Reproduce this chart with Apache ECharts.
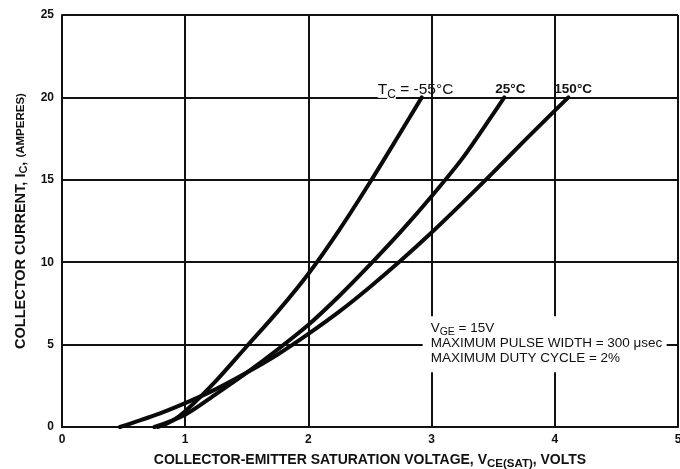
<!DOCTYPE html>
<html><head><meta charset="utf-8">
<script src="https://cdn.jsdelivr.net/npm/echarts@6/dist/echarts.min.js"></script>
<style>html,body{margin:0;padding:0;background:#fff}#c{width:680px;height:469px}</style>
</head><body><div id="c"></div>
<script>
// Data (V_CE(sat) volts, I_C amperes)
var curveM55 = [[0.78,0],[0.9,0.4],[1.0,0.95],[1.25,2.8],[1.5,4.9],[1.75,7.0],[2.0,9.3],[2.25,11.95],[2.5,14.85],[2.75,17.9],[2.92,20]];
var curve25 = [[0.75,0],[1.0,0.75],[1.25,2.0],[1.5,3.3],[1.75,4.7],[2.0,6.2],[2.25,7.95],[2.5,9.85],[2.75,11.85],[3.0,14.0],[3.25,16.3],[3.5,19.0],[3.59,20]];
var curve150 = [[0.47,0],[0.75,0.7],[1.0,1.45],[1.25,2.3],[1.5,3.3],[1.75,4.4],[2.0,5.65],[2.25,7.0],[2.5,8.5],[2.75,10.1],[3.0,11.8],[3.25,13.6],[3.5,15.45],[3.75,17.35],[4.0,19.2],[4.11,20]];
var xTicks = [0,1,2,3,4,5];
var yTicks = [0,5,10,15,20,25];
var curveLabels = ['-55°C','25°C','150°C'];
var noteLines = ['= 15V','MAXIMUM PULSE WIDTH = 300 \u03bcsec','MAXIMUM DUTY CYCLE = 2%'];

var chart = echarts.init(document.getElementById('c'), null, {renderer:'canvas'});
var F = 'Liberation Sans, Arial, sans-serif';
function ser(d){return {type:'line',data:d,smooth:0.3,showSymbol:false,symbol:'none',
  lineStyle:{color:'#0a0a0a',width:4,cap:'round'},z:5,silent:true};}
chart.setOption({
  animation:false,
  grid:{left:62,right:2,top:15,bottom:42,containLabel:false,outerBoundsMode:'none'},
  xAxis:{type:'value',min:0,max:5,interval:1,
    axisLine:{show:true,lineStyle:{color:'#111',width:2}},axisTick:{show:false},
    splitLine:{show:true,lineStyle:{color:'#111',width:2}},
    axisLabel:{color:'#111',fontFamily:F,fontWeight:'bold',fontSize:12,margin:7,
      formatter:function(v){return xTicks.indexOf(v)>=0?String(v):'';}},
    name:'{a|COLLECTOR-EMITTER SATURATION VOLTAGE, V}{s|CE(SAT)}{a|, VOLTS}',nameLocation:'middle',nameGap:24,
    nameTextStyle:{rich:{a:{fontFamily:F,fontWeight:'bold',fontSize:14,color:'#111'},
      s:{fontFamily:F,fontWeight:'bold',fontSize:11.5,color:'#111',padding:[7,0,0,0]}}}},
  yAxis:{type:'value',min:0,max:25,interval:5,
    axisLine:{show:true,lineStyle:{color:'#111',width:2}},axisTick:{show:false},
    splitLine:{show:true,lineStyle:{color:'#111',width:2}},
    axisLabel:{color:'#111',fontFamily:F,fontWeight:'bold',fontSize:12,margin:8,
      formatter:function(v){return yTicks.indexOf(v)>=0?String(v):'';}},
    name:'{a|COLLECTOR CURRENT, I}{s|C}{a|, }{b|(AMPERES)}',nameLocation:'middle',nameGap:33,nameRotate:90,
    nameTextStyle:{rich:{a:{fontFamily:F,fontWeight:'bold',fontSize:14.5,color:'#111'},
      s:{fontFamily:F,fontWeight:'bold',fontSize:11,color:'#111',padding:[6,0,0,0]},
      b:{fontFamily:F,fontWeight:'bold',fontSize:11.5,color:'#111'}}}},
  series:[ser(curveM55),ser(curve25),ser(curve150)]
});

function px(v,i){return chart.convertToPixel({gridIndex:0},[v,i]);}
var ends=[curveM55[curveM55.length-1],curve25[curve25.length-1],curve150[curve150.length-1]];
var g=[];
var p0=px(ends[0][0],ends[0][1]);
g.push({type:'text',left:p0[0]-44,top:p0[1]-18,z:10,style:{
  text:'{t|T}{s|C}{u| = '+curveLabels[0]+'}',
  rich:{t:{fontFamily:F,fontSize:15.5,fill:'#111',backgroundColor:'#fff'},
    s:{fontFamily:F,fontSize:12,fill:'#111',padding:[9,0,0,0],backgroundColor:'#fff'},
    u:{fontFamily:F,fontSize:15.5,fill:'#111'}}}});
var p1=px(ends[1][0],ends[1][1]);
g.push({type:'text',left:p1[0]-9,top:p1[1]-15,z:10,style:{text:curveLabels[1],fontFamily:F,fontSize:13.5,fontWeight:'bold',fill:'#111'}});
var p2=px(ends[2][0],ends[2][1]);
g.push({type:'text',left:p2[0]-14,top:p2[1]-15,z:10,style:{text:curveLabels[2],fontFamily:F,fontSize:13.5,fontWeight:'bold',fill:'#111'}});
var pn=px(2.96,6.6);
g.push({type:'rect',left:pn[0]-4,top:pn[1]-2,z:9,shape:{width:244,height:56},style:{fill:'#fff'}});
g.push({type:'text',left:pn[0]+4,top:pn[1]+2,z:10,style:{
  text:'{t|V}{s|GE}{t| '+noteLines[0]+'}\n{t|'+noteLines[1]+'}\n{t|'+noteLines[2]+'}',
  rich:{t:{fontFamily:F,fontSize:13.5,fill:'#111',lineHeight:15},s:{fontFamily:F,fontSize:10.5,fill:'#111',padding:[6,0,0,0],lineHeight:15}}}});
chart.setOption({graphic:g});
</script></body></html>
